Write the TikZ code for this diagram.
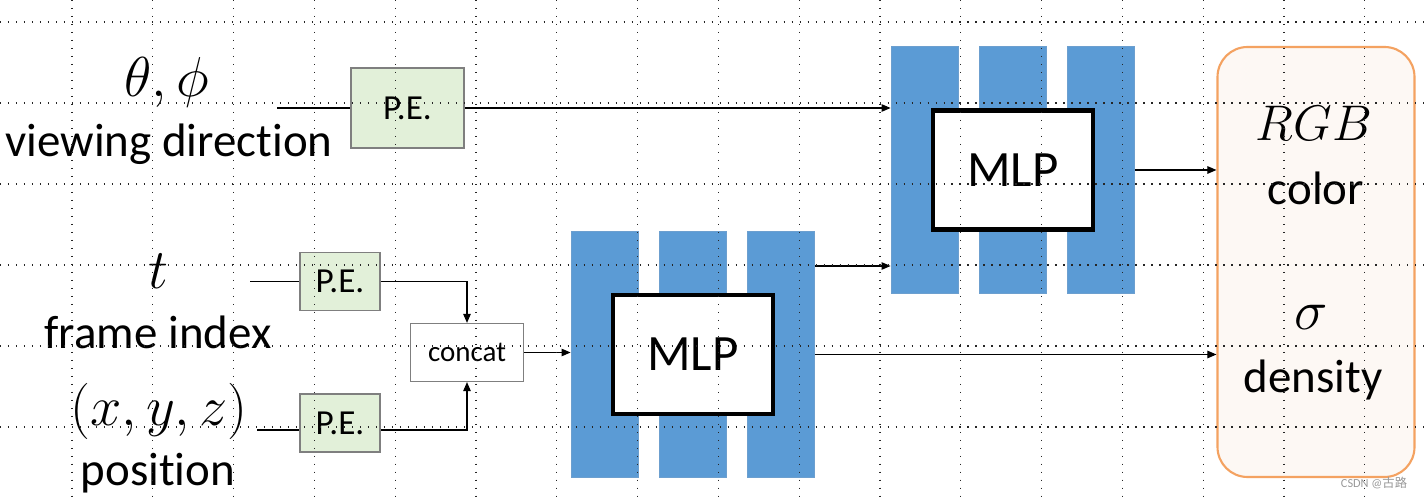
\documentclass[tikz,border=0pt]{standalone}
\usepackage{fix-cm}
\usepackage{fontspec}
\setmainfont{Carlito}[Ligatures=NoCommon]
\newfontfamily\cjkfont{Noto Sans CJK SC}
\usetikzlibrary{arrows.meta}

\definecolor{barblue}{HTML}{5B9BD5}
\definecolor{barline}{HTML}{6C9FCF}
\definecolor{pegreen}{HTML}{E2F0D9}
\definecolor{boxgray}{HTML}{7F7F7F}
\definecolor{outorange}{HTML}{F4A261}
\definecolor{outfill}{HTML}{FDF8F4}

\tikzset{
    griddot/.style={black!85, line width=0.7pt, dash pattern=on 0.7pt off 3.85pt},
    txt/.style={inner sep=0pt, font=\fontsize{26.7}{30}\selectfont},
    mathlbl/.style={inner sep=0pt, font=\fontsize{32}{36}\selectfont},
    pe/.style={draw=boxgray, line width=0.9pt, fill=pegreen, inner sep=0pt,
        minimum width=1.61cm, minimum height=1.16cm, font=\fontsize{20}{24}\selectfont},
    concatbox/.style={draw=boxgray, line width=0.7pt, fill=white, inner sep=0pt,
        minimum width=2.26cm, minimum height=1.16cm, font=\fontsize{16.5}{20}\selectfont},
    capa/.style={draw=barline, line width=0.5pt, fill=barblue, inner sep=0pt,
        minimum width=1.34cm, minimum height=4.93cm},
    mlp/.style={draw=black, line width=2.3pt, fill=white, inner sep=0pt,
        minimum width=3.2cm, minimum height=2.38cm, font=\fontsize{29}{33}\selectfont},
    salida/.style={draw=outorange, line width=1.2pt, fill=outfill, rounded corners=0.6cm,
        minimum width=3.94cm, minimum height=8.6cm},
    conn/.style={line width=0.6pt},
    marca/.style={inner sep=0pt, text=black!40, font=\fontsize{7}{8}\selectfont}
}

\begin{document}
\begin{tikzpicture}[>={Triangle[length=1.8mm,width=1.5mm]}]
        % Fondo
        \fill[white] (0,0) rectangle (28.48,9.96);
        \useasboundingbox (0,0) rectangle (28.48,9.96);

        % Entradas
        \node[mathlbl] (ang) at (3.34,8.32) {$\theta,\phi$};
        \node[txt] (viewdir) at (3.38,7.08) {viewing direction};
        \node[mathlbl] (tt) at (3.16,4.54) {$t$};
        \node[txt] (frame) at (3.16,3.32) {frame index};
        \node[mathlbl] (xyz) at (3.18,1.74) {$(x,y,z)$};
        \node[txt] (pos) at (3.16,0.50) {position};

        % Codificacion posicional
        \node[pe, minimum width=2.27cm, minimum height=1.61cm] (pe1) at (8.15,7.80) {P.E.};
        \node[pe] (pe2) at (6.80,4.33) {P.E.};
        \node[pe] (pe3) at (6.80,1.50) {P.E.};
        \node[concatbox] (cat) at (9.34,2.91) {concat};

        % Capas de las dos MLP
        \foreach \i in {1,2,3} {
            \node[capa] (l\i) at ({12.09+1.765*(\i-1)},2.87) {};
            \node[capa] (u\i) at ({18.49+1.765*(\i-1)},6.56) {};
        }
        \node[mlp] (mlpa) at (l2) {MLP};
        \node[mlp] (mlpb) at (u2) {MLP};

        % Salida
        \node[salida] (out) at (26.32,4.72) {};
        \node[mathlbl, font=\fontsize{28.5}{32}\selectfont] (rgb) at (26.28,7.50) {$RGB$};
        \node[txt] (col) at (26.32,6.20) {color};
        \node[mathlbl] (sig) at (26.22,3.62) {$\sigma$};
        \node[txt] (dens) at (26.26,2.36) {density};

        % Conexiones
        \coordinate (in1) at (5.54,7.80);
        \coordinate (in2) at (5.00,4.33);
        \coordinate (in3) at (5.14,1.36);
        \coordinate (salto) at (0,4.64);
        \draw[conn] (in1) -- (pe1.west);
        \draw[conn] (in2) -- (pe2.west);
        \draw[conn] (in3) -- (in3 -| pe3.west);
        \draw[conn, ->] (pe1.east) -- (pe1.east -| u1.west);
        \draw[conn, ->] (pe2.east) -| (cat.north);
        \draw[conn, ->] (in3 -| pe3.east) -| (cat.south);
        \draw[conn, ->] (cat.east) -- (cat.east -| l1.west);
        \draw[conn, ->] (salto -| l3.east) -- (salto -| u1.west);
        \draw[conn, ->] (mlpa.center -| l3.east) -- (mlpa.center -| out.west);
        \draw[conn, ->] (mlpb.center -| u3.east) -- (mlpb.center -| out.west);

        % Marca de agua
        \node[marca] (wm) at (27.48,0.30) {CSDN @{\cjkfont 古路}};

        % Rejilla punteada
        \foreach \x in {0,...,16}
            \draw[griddot] ({1.44+1.616*\x},9.96) -- ++(0,-9.96);
        \foreach \y in {0,...,5}
            \draw[griddot] (0,{9.52-1.62*\y}) -- ++(28.48,0);
    \end{tikzpicture}
\end{document}
